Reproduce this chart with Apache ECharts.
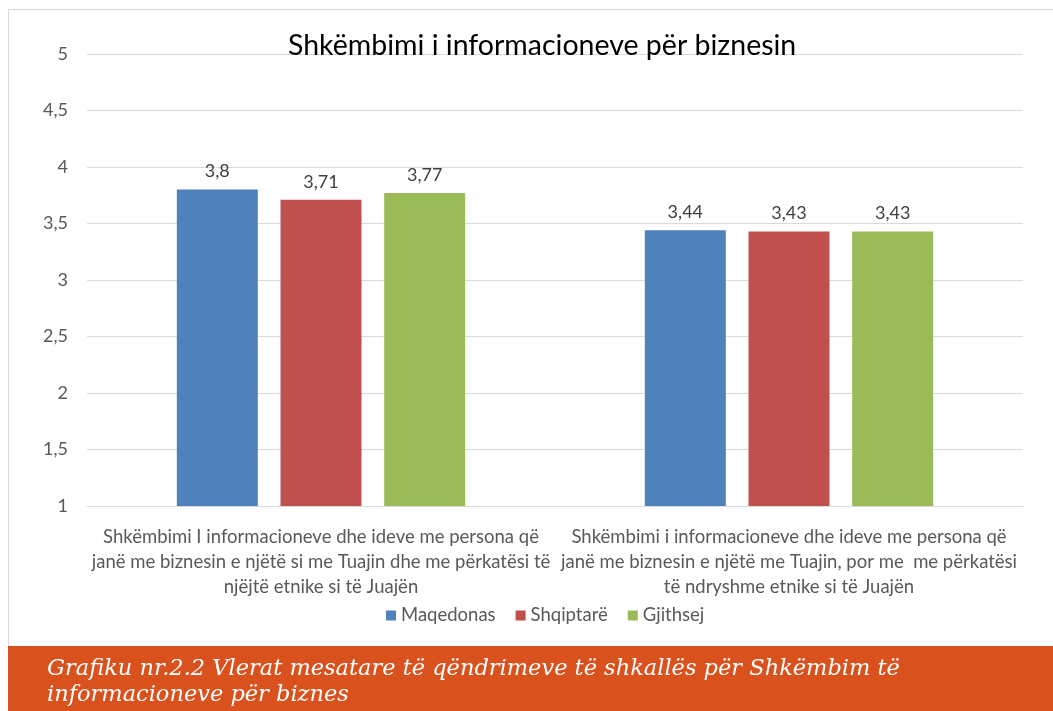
<!DOCTYPE html>
<html>
<head>
<meta charset="utf-8">
<script src="https://cdn.jsdelivr.net/npm/echarts@6/dist/echarts.min.js"></script>
<style>
	html, body { margin: 0; padding: 0; background: #fff; }
	#chart { width: 1053px; height: 711px; }
</style>
</head>
<body>
<div id="chart"></div>
<script>
	// kategorite (me ndarje rreshtash si ne origjinal)
	var categories = [
		'Shkëmbimi I informacioneve dhe ideve me persona që\njanë me biznesin e njëtë si me Tuajin dhe me përkatësi të\nnjëjtë etnike si të Juajën',
		'Shkëmbimi i informacioneve dhe ideve me persona që\njanë me biznesin e njëtë me Tuajin, por me  me përkatësi\ntë ndryshme etnike si të Juajën'
	]
	var seriesNames = ['Maqedonas', 'Shqiptarë', 'Gjithsej']
	var maqedonas = [3.8, 3.44]
	var shqiptare = [3.71, 3.43]
	var gjithsej = [3.77, 3.43]
	var yTicks = [1, 1.5, 2, 2.5, 3, 3.5, 4, 4.5, 5]

	var colors = ['#4F81BD', '#C0504D', '#9BBB59']
	var font = 'Lato, "Open Sans", sans-serif'

	function comma(v) {
		return String(v).replace('.', ',')
	}

	function barSeries(name, data, color) {
		return {
			name: name,
			type: 'bar',
			data: data,
			barWidth: 81,
			barGap: '28%',
			itemStyle: { color: color },
			label: {
				show: true,
				position: 'top',
				distance: 9,
				color: '#404040',
				fontSize: 18,
				fontFamily: font,
				formatter: function (p) { return comma(p.value) }
			}
		}
	}

	var chart = echarts.init(document.getElementById('chart'))
	chart.setOption({
		animation: false,
		color: colors,
		title: {
			text: 'Shkëmbimi i informacioneve për biznesin',
			left: 283,
			top: 26,
			textStyle: { color: '#000', fontSize: 28.5, fontWeight: 'normal', fontFamily: font }
		},
		legend: {
			data: seriesNames,
			top: 601,
			left: 381,
			itemWidth: 10,
			itemHeight: 10,
			itemGap: 20,
			icon: 'rect',
			textStyle: { color: '#595959', fontSize: 18.5, fontFamily: font }
		},
		grid: { left: 87, right: 30, top: 54, bottom: 205 },
		xAxis: {
			type: 'category',
			data: categories,
			axisLine: { lineStyle: { color: '#d9d9d9' } },
			axisTick: { show: false },
			axisLabel: {
				interval: 0,
				margin: 19,
				color: '#595959',
				fontSize: 18.5,
				lineHeight: 25,
				fontFamily: font,
				align: 'center'
			}
		},
		yAxis: {
			type: 'value',
			min: yTicks[0],
			max: yTicks[yTicks.length - 1],
			interval: 0.5,
			axisLine: { show: false },
			axisTick: { show: false },
			splitLine: { lineStyle: { color: '#d9d9d9' } },
			axisLabel: {
				margin: 19,
				color: '#595959',
				fontSize: 18,
				fontFamily: font,
				formatter: function (v) { return comma(v) }
			}
		},
		graphic: [
			{
				type: 'rect',
				shape: { x: 8.5, y: 9.5, width: 1060, height: 650 },
				style: { fill: 'none', stroke: '#d9d9d9', lineWidth: 1 },
				silent: true
			},
			{
				type: 'rect',
				shape: { x: 8, y: 646, width: 1045, height: 65 },
				style: { fill: '#D9521E' },
				silent: true
			},
			{
				type: 'text',
				left: 47,
				top: 656,
				style: {
					text: 'Grafiku nr.2.2 Vlerat mesatare të qëndrimeve të shkallës për Shkëmbim të\ninformacioneve për biznes',
					fill: '#fff',
					font: 'italic 22.5px "DejaVu Serif", serif',
					lineHeight: 26
				},
				silent: true
			}
		],
		series: [
			barSeries(seriesNames[0], maqedonas, colors[0]),
			barSeries(seriesNames[1], shqiptare, colors[1]),
			barSeries(seriesNames[2], gjithsej, colors[2])
		]
	})
</script>
</body>
</html>
